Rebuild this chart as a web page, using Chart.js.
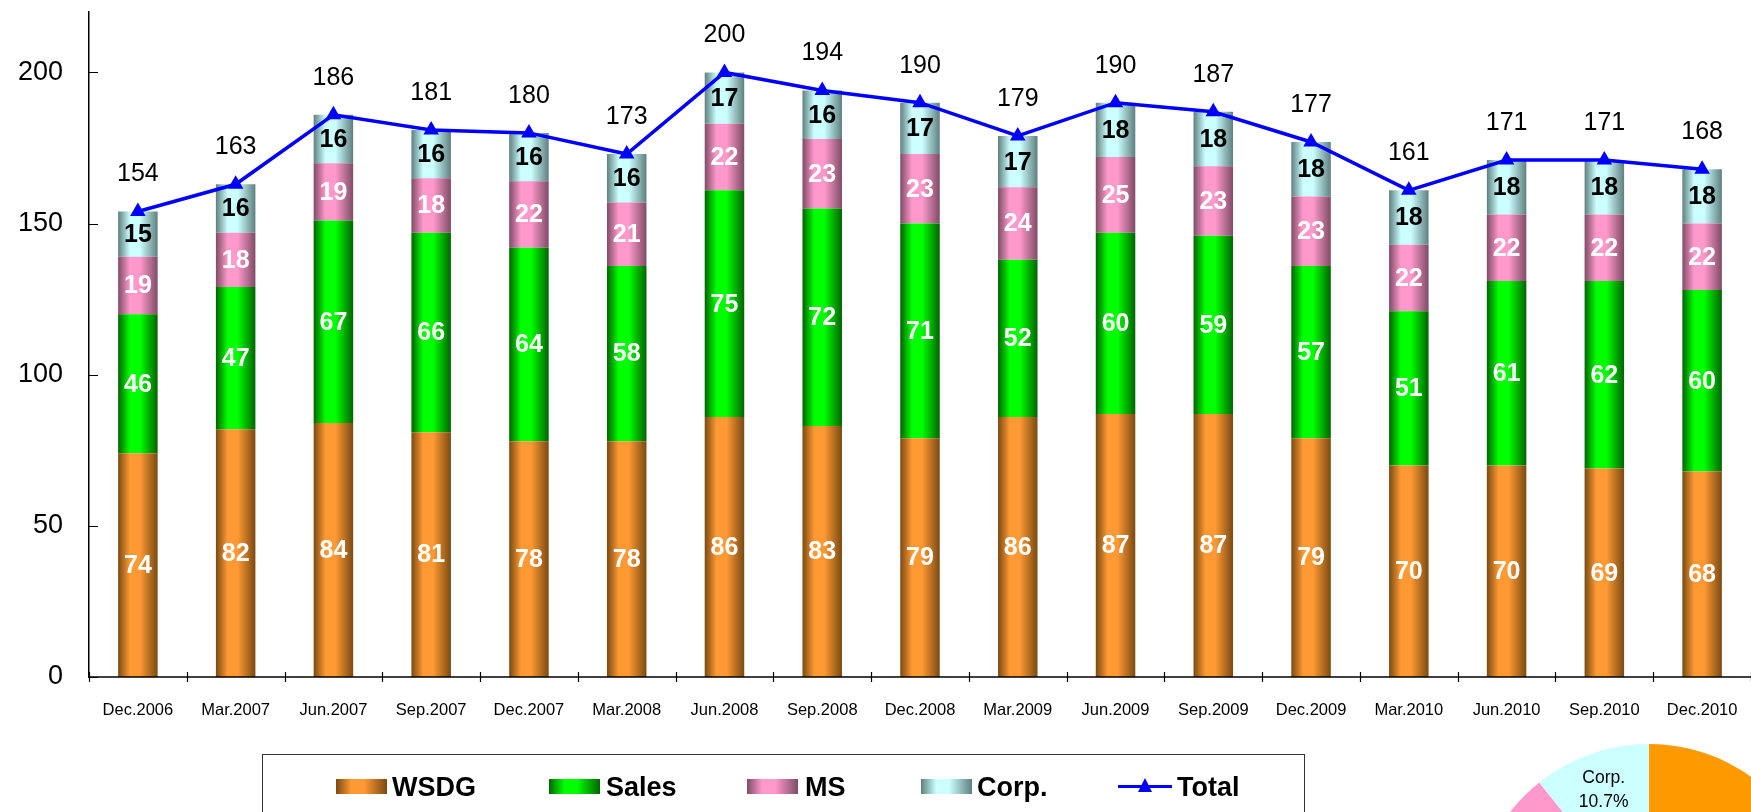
<!DOCTYPE html>
<html lang="en">
<head>
<meta charset="utf-8" />
<title>Headcount by division</title>
<script src="https://cdn.jsdelivr.net/npm/chart.js@4.4.1/dist/chart.umd.min.js"></script>
<style>
	html, body { margin: 0; padding: 0; background: #fff; overflow: hidden; }
	#stage { position: relative; width: 1751px; height: 812px; overflow: hidden; }
	#barChart { position: absolute; left: 0; top: 0; }
	#pieChart { position: absolute; left: 1473px; top: 744px; }
	#legend {
		position: absolute; left: 262px; top: 754px; width: 1043px; height: 90px;
		border: 1.5px solid #333; box-sizing: border-box;
		font: bold 27px "Liberation Sans", Arial, sans-serif; color: #000;
	}
	.lg-swatch { position: absolute; top: 24px; width: 51px; height: 15px; }
	.lg-text { position: absolute; top: 16px; white-space: nowrap; line-height: 32px; }
	.lg-line { position: absolute; top: 30px; width: 54px; height: 3px; background: #0000ff; }
	.lg-tri {
		position: absolute; top: 23px; width: 0; height: 0;
		border-left: 7px solid transparent; border-right: 7px solid transparent;
		border-bottom: 14px solid #0000ff;
	}
</style>
</head>
<body>
<div id="stage">
	<canvas id="barChart" width="1760" height="812"></canvas>
	<canvas id="pieChart" width="352" height="352"></canvas>
	<div id="legend"></div>
</div>

<script>
	// quarterly headcount per division
	var categories = ["Dec.2006", "Mar.2007", "Jun.2007", "Sep.2007", "Dec.2007", "Mar.2008",
		"Jun.2008", "Sep.2008", "Dec.2008", "Mar.2009", "Jun.2009", "Sep.2009",
		"Dec.2009", "Mar.2010", "Jun.2010", "Sep.2010", "Dec.2010"];
	var seriesNames = ["WSDG", "Sales", "MS", "Corp."];
	var wsdg  = [74, 82, 84, 81, 78, 78, 86, 83, 79, 86, 87, 87, 79, 70, 70, 69, 68];
	var sales = [46, 47, 67, 66, 64, 58, 75, 72, 71, 52, 60, 59, 57, 51, 61, 62, 60];
	var ms    = [19, 18, 19, 18, 22, 21, 22, 23, 23, 24, 25, 23, 23, 22, 22, 22, 22];
	var corp  = [15, 16, 16, 16, 16, 16, 17, 16, 17, 17, 18, 18, 18, 18, 18, 18, 18];
	var total = [154, 163, 186, 181, 180, 173, 200, 194, 190, 179, 190, 187, 177, 161, 171, 171, 168];
	var yTicks = [0, 50, 100, 150, 200];

	var FONT = '"Liberation Sans", Arial, sans-serif';
	var BAR_PCT = 0.404;

	// light / dark pairs for the shaded bars, flat colours for the pie
	var barLight = ["#ff9933", "#00ff00", "#ff99cc", "#ccffff"];
	var barDark  = ["#7a4a12", "#006400", "#7f4c66", "#5f7f7f"];
	var labelColors = ["#fff", "#fff", "#fff", "#000"];
	var pieColors = ["#ff9900", "#00cc00", "#ff99cc", "#ccffff"];

	function barGradient(i) {
		return function (ctx) {
			var chart = ctx.chart;
			var x = chart.scales.x;
			if (!chart.chartArea || !x || ctx.dataIndex === undefined) return barLight[i];
			var cx = x.getPixelForValue(ctx.dataIndex);
			var half = x.width / categories.length * BAR_PCT / 2;
			var g = chart.ctx.createLinearGradient(cx - half, 0, cx + half, 0);
			g.addColorStop(0, barDark[i]);
			g.addColorStop(0.3, barLight[i]);
			g.addColorStop(0.55, barLight[i]);
			g.addColorStop(1, barDark[i]);
			return g;
		};
	}

	// category axis line plus tick marks: inward on the value axis, across the category axis
	var axisTicks = {
		id: "axisTicks",
		afterDraw: function (chart) {
			var c = chart.ctx, area = chart.chartArea, y = chart.scales.y;
			c.save();
			c.strokeStyle = "#000";
			c.lineWidth = 1.5;
			c.beginPath();
			c.moveTo(area.left, area.bottom);
			c.lineTo(area.right, area.bottom);
			c.stroke();
			c.lineWidth = 1.2;
			c.beginPath();
			y.ticks.forEach(function (t) {
				var py = Math.round(y.getPixelForValue(t.value)) + 0.5;
				c.moveTo(area.left, py);
				c.lineTo(area.left + 9, py);
			});
			var step = area.width / categories.length;
			for (var k = 0; k <= categories.length; k++) {
				var px = Math.round(area.left + k * step) + 0.5;
				c.moveTo(px, area.bottom - 5);
				c.lineTo(px, area.bottom + 5);
			}
			c.stroke();
			c.restore();
		}
	};

	// segment values inside bars, totals above the line
	var valueLabels = {
		id: "valueLabels",
		afterDatasetsDraw: function (chart) {
			var c = chart.ctx;
			c.save();
			c.textAlign = "center";
			c.textBaseline = "middle";
			chart.data.datasets.forEach(function (ds, i) {
				var meta = chart.getDatasetMeta(i);
				meta.data.forEach(function (el, j) {
					if (ds.type === "line") {
						c.font = "25px " + FONT;
						c.fillStyle = "#000";
						c.fillText(ds.data[j], el.x, el.y - 37);
					} else {
						c.font = "bold 25px " + FONT;
						c.fillStyle = labelColors[i];
						c.fillText(ds.data[j], el.x, (el.y + el.base) / 2 + 1);
					}
				});
			});
			c.restore();
		}
	};

	var seriesValues = [wsdg, sales, ms, corp];
	var datasets = seriesValues.map(function (vals, i) {
		return {
			type: "bar",
			label: seriesNames[i],
			data: vals,
			backgroundColor: barGradient(i),
			borderWidth: 0,
			stack: "div",
			order: 1,
			categoryPercentage: 1,
			barPercentage: BAR_PCT
		};
	});
	datasets.push({
		type: "line",
		label: "Total",
		data: total,
		stack: "total",
		order: 0,
		borderColor: "#0000ff",
		backgroundColor: "#0000ff",
		borderWidth: 3.5,
		pointStyle: "triangle",
		pointRadius: 9,
		pointBorderWidth: 0,
		tension: 0
	});

	new Chart(document.getElementById("barChart"), {
		type: "bar",
		data: { labels: categories, datasets: datasets },
		options: {
			responsive: false,
			animation: false,
			layout: { padding: { top: 12, left: 0, right: 0, bottom: 0 } },
			plugins: { legend: { display: false }, tooltip: { enabled: false } },
			scales: {
				x: {
					stacked: true,
					grid: { display: false, drawTicks: false },
					border: { display: false },
					ticks: { color: "#000", font: { family: FONT, size: 16.5 }, padding: 24, maxRotation: 0, autoSkip: false },
					afterFit: function (scale) {
						scale.height = 135;
						scale.paddingLeft = 0;
						scale.paddingRight = 0;
					}
				},
				y: {
					stacked: true,
					min: 0,
					max: 220,
					grid: { display: false, drawTicks: false },
					border: { display: true, color: "#000", width: 1.5 },
					ticks: { color: "#000", font: { family: FONT, size: 27 }, padding: 26 },
					afterBuildTicks: function (scale) {
						scale.ticks = yTicks.map(function (v) { return { value: v }; });
					},
					afterFit: function (scale) {
						scale.width = 89;
						scale.paddingTop = 0;
						scale.paddingBottom = 0;
					}
				}
			}
		},
		plugins: [axisTicks, valueLabels]
	});

	// latest quarter split as a pie
	var last = categories.length - 1;
	var pieValues = seriesValues.map(function (vals) { return vals[last]; });

	var pieLabels = {
		id: "pieLabels",
		afterDatasetsDraw: function (chart) {
			var c = chart.ctx;
			var meta = chart.getDatasetMeta(0);
			var sum = pieValues.reduce(function (a, b) { return a + b; }, 0);
			c.save();
			c.textAlign = "center";
			c.textBaseline = "middle";
			c.font = "17.5px " + FONT;
			c.fillStyle = "#000";
			meta.data.forEach(function (arc, i) {
				var mid = (arc.startAngle + arc.endAngle) / 2;
				var r = arc.outerRadius * 0.78;
				var px = arc.x + Math.cos(mid) * r;
				var py = arc.y + Math.sin(mid) * r;
				c.fillText(seriesNames[i], px, py - 12);
				c.fillText((pieValues[i] / sum * 100).toFixed(1) + "%", px, py + 12);
			});
			c.restore();
		}
	};

	new Chart(document.getElementById("pieChart"), {
		type: "pie",
		data: {
			labels: seriesNames,
			datasets: [{ data: pieValues, backgroundColor: pieColors, borderWidth: 0 }]
		},
		options: {
			responsive: false,
			animation: false,
			layout: { padding: 0 },
			plugins: { legend: { display: false }, tooltip: { enabled: false } }
		},
		plugins: [pieLabels]
	});

	// legend box under the chart
	var legend = document.getElementById("legend");
	var swatchX = [73, 286, 484, 658];
	var textX = [129, 343, 542, 714];
	seriesNames.forEach(function (name, i) {
		var sw = document.createElement("div");
		sw.className = "lg-swatch";
		sw.style.left = swatchX[i] + "px";
		sw.style.background = "linear-gradient(to right, " + barDark[i] + " 0%, " +
			barLight[i] + " 30%, " + barLight[i] + " 55%, " + barDark[i] + " 100%)";
		legend.appendChild(sw);
		var tx = document.createElement("div");
		tx.className = "lg-text";
		tx.style.left = textX[i] + "px";
		tx.textContent = name;
		legend.appendChild(tx);
	});
	var ln = document.createElement("div");
	ln.className = "lg-line";
	ln.style.left = "855px";
	legend.appendChild(ln);
	var tri = document.createElement("div");
	tri.className = "lg-tri";
	tri.style.left = "875px";
	legend.appendChild(tri);
	var tt = document.createElement("div");
	tt.className = "lg-text";
	tt.style.left = "914px";
	tt.textContent = "Total";
	legend.appendChild(tt);
</script>
</body>
</html>
